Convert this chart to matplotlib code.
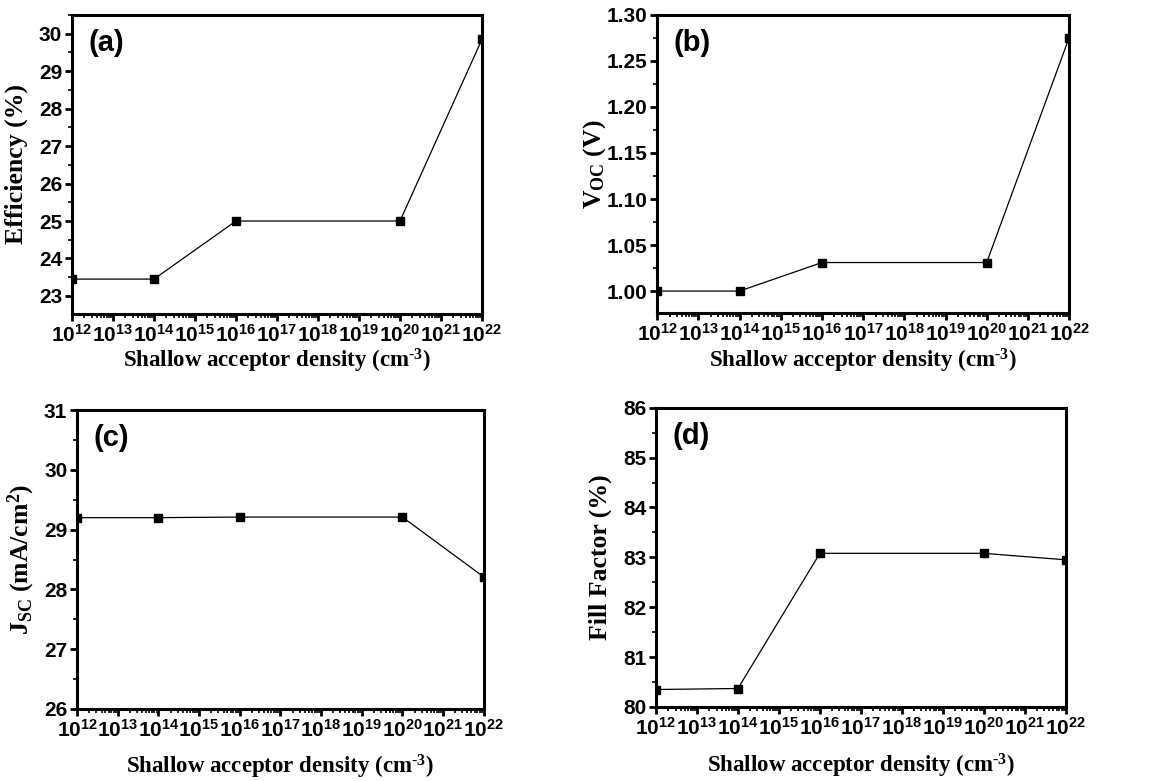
import numpy as np
import matplotlib
matplotlib.use('Agg')
import matplotlib.pyplot as plt
from matplotlib import ticker, rcParams

# shallow acceptor density (cm^-3)
density = [1e12, 1e14, 1e16, 1e20, 1e22]

efficiency = [23.45, 23.45, 25.0, 25.0, 29.85]
voc = [1.000, 1.000, 1.031, 1.031, 1.275]
jsc = [29.20, 29.20, 29.21, 29.21, 28.21]
fill_factor = [80.35, 80.37, 83.08, 83.08, 82.95]

x_decades = list(range(12, 23))
panel_labels = ['(a)', '(b)', '(c)', '(d)']
y_labels = ['Efficiency (%)', r'$\mathrm{V_{OC}}$ (V)',
            r'$\mathrm{J_{SC}}$ (mA/cm$^{\mathrm{2}}$)', 'Fill Factor (%)']
x_label = r'Shallow acceptor density (cm$^{\text{-3}}$)'

rcParams['mathtext.fontset'] = 'custom'
rcParams['mathtext.rm'] = 'Liberation Serif:bold'
rcParams['mathtext.it'] = 'Liberation Serif:bold'
rcParams['mathtext.bf'] = 'Liberation Serif:bold'
rcParams['mathtext.sf'] = 'Liberation Sans:bold'
rcParams['font.family'] = 'Liberation Sans'
rcParams['font.weight'] = 'bold'


def dec_label(val, pos):
    exp = int(round(np.log10(val)))
    return r'$\mathsf{10^{%d}}$' % exp


def setup_axes(ax, yvals, ylim, ymajor, yminor, yfmt, ylabel, panel, ylab_x, xlab_y):
    ax.plot(density, yvals, 'k-', lw=0.9, marker='s', ms=5.5, mfc='k', mec='k')
    ax.set_xscale('log')
    ax.set_xlim(1e12, 1e22)
    ax.set_ylim(*ylim)
    ax.xaxis.set_major_locator(ticker.FixedLocator([10.0 ** d for d in x_decades]))
    minors = [m * 10.0 ** d for d in x_decades[:-1] for m in range(2, 10)]
    ax.xaxis.set_minor_locator(ticker.FixedLocator(minors))
    ax.xaxis.set_major_formatter(ticker.FuncFormatter(dec_label))
    ax.xaxis.set_minor_formatter(ticker.NullFormatter())
    ax.yaxis.set_major_locator(ticker.MultipleLocator(ymajor))
    ax.yaxis.set_minor_locator(ticker.MultipleLocator(yminor))
    ax.yaxis.set_major_formatter(ticker.FormatStrFormatter(yfmt))
    for s in ax.spines.values():
        s.set_linewidth(2.2)
    ax.tick_params(which='major', direction='out', length=5, width=2, labelsize=15, pad=2)
    ax.tick_params(which='minor', direction='out', length=3, width=1.2)
    for lab in ax.get_yticklabels():
        lab.set_fontweight('bold')
    ax.set_xlabel(x_label, fontsize=16.5, family='Liberation Serif', weight='bold')
    ax.set_ylabel(ylabel, fontsize=18.5, family='Liberation Serif', weight='bold')
    ax.yaxis.set_label_coords(ylab_x, 0.5)
    ax.xaxis.set_label_coords(0.5, xlab_y)
    ax.text(0.04, 0.905, panel, transform=ax.transAxes, fontsize=21, weight='bold',
            va='center', ha='left')


fig = plt.figure(figsize=(11.57, 7.81), dpi=100)
ax_a = fig.add_axes([0.0622, 0.598, 0.3544, 0.383])
ax_b = fig.add_axes([0.568, 0.599, 0.356, 0.382])
ax_c = fig.add_axes([0.0666, 0.0922, 0.3514, 0.3828])
ax_d = fig.add_axes([0.567, 0.0948, 0.354, 0.3832])

setup_axes(ax_a, efficiency, (22.52, 30.5), 1, 0.5, '%d', y_labels[0], panel_labels[0], -0.107, -0.110)
setup_axes(ax_b, voc, (0.976, 1.30), 0.05, 0.025, '%.2f', y_labels[1], panel_labels[1], -0.119, -0.114)
setup_axes(ax_c, jsc, (26, 31), 1, 0.5, '%d', y_labels[2], panel_labels[2], -0.098, -0.147)
setup_axes(ax_d, fill_factor, (80, 86), 1, 0.5, '%d', y_labels[3], panel_labels[3], -0.107, -0.150)

fig.savefig('out.png', dpi=100)
